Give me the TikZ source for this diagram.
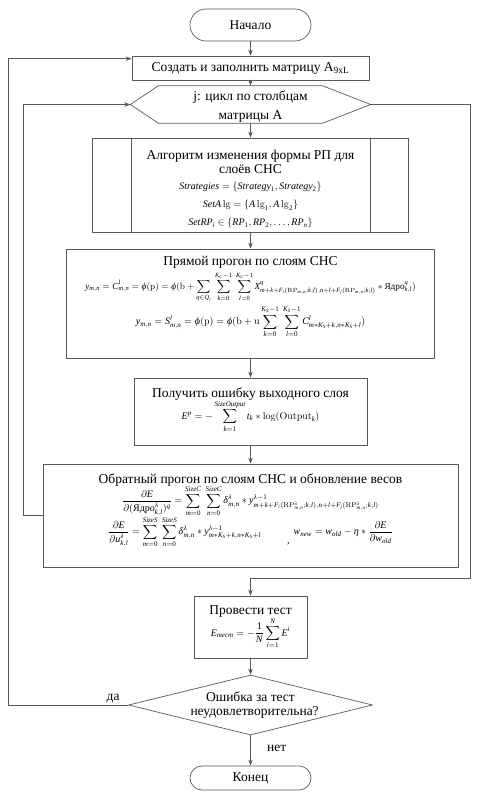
\documentclass[tikz,border=0pt]{standalone}
\usepackage{amsmath}
\usepackage{amssymb}
\usepackage{mathspec}
\setmainfont{Liberation Serif}
\setmathsfont(Digits,Latin,Greek){Liberation Serif}
\usetikzlibrary{arrows.meta,shapes.geometric,shapes.misc,calc}

\tikzset{
  line/.style={draw=black!65, line width=0.7pt},
  arr/.style={line, -{Stealth[length=6pt,width=4.5pt]}},
  blockbox/.style={line, rectangle, inner sep=0pt},
  termbox/.style={line, rounded rectangle, inner sep=0pt, minimum width=121pt},
  decisionbox/.style={line, diamond, aspect=4, inner sep=0pt,
    minimum width=244pt, minimum height=60pt},
}
\newcommand{\blk}[4][c]{\parbox[c][#3][#1]{#2}{\centering #4}}
\newcommand{\fml}{\fontsize{10}{12}\selectfont}

\begin{document}
\begin{tikzpicture}[x=1pt, y=-1pt, font=\fontsize{13.5}{14.5}\selectfont]
    \useasboundingbox (0,0) rectangle (483,797);

    % blocks
    \node[termbox, minimum height=32pt] (start) at (250.5,25) {Начало};
    \node[blockbox] (create) at (250.5,68)
        {\blk{237pt}{24pt}{Создать и заполнить матрицу A\textsubscript{9xL}}};
    \node[inner sep=0pt] (loopj) at (250.5,104.5)
        {\blk{240pt}{37pt}{\fontsize{13.5}{19.5}\selectfont\vspace*{4pt}j: цикл по столбцам\\ матрицы A}};
    \node[blockbox] (alg) at (250.5,185)
        {\blk[t]{316pt}{94pt}{\vspace*{12pt}Алгоритм изменения формы РП для\\ слоёв СНС\\[1.5pt]
        {\fml $Strategies=\{Strategy_1,Strategy_2\}$}\\[3.5pt]
        {\fml $SetA\lg=\{A\lg_1,A\lg_2\}$}\\[3.5pt]
        {\fml $SetRP_i\in\{RP_1,RP_2,\ldots,RP_n\}$}}};
    \node[blockbox] (fwd) at (250.5,303.5)
        {\blk[t]{368pt}{109pt}{\vspace*{7pt}Прямой прогон по слоям СНС\\[3pt]
        {\fontsize{9.2}{11}\selectfont $\displaystyle y_{m,n}=C^{l}_{m,n}=\varphi(\mathrm{p})=\varphi(\mathrm{b}+\sum_{q\in Q_l}\;\sum_{k=0}^{K_C-1}\;\sum_{l=0}^{K_C-1}X^{q}_{m+k+F_i(\mathrm{RP}_{m,n};k;l),n+l+F_j(\mathrm{RP}_{m,n};k;l)}*\text{Ядро}^{q}_{k,l})$}\\[3pt]
        {\fml $\displaystyle y_{m,n}=S^{l}_{m,n}=\varphi(\mathrm{p})=\varphi(\mathrm{b}+\mathrm{u}\sum_{k=0}^{K_S-1}\;\sum_{l=0}^{K_S-1}C^{l}_{m*K_S+k,n*K_S+l})$}}};
    \node[blockbox] (err) at (250.5,411.5)
        {\blk{233pt}{67pt}{\vspace*{-3pt}Получить ошибку выходного слоя\\[-1pt]
        {\fml $\displaystyle E^{p}=-\sum_{k=1}^{SizeOutput}t_k*\log(\mathrm{Output}_k)$}}};
    \node[blockbox] (back) at (250.5,515.5)
        {\blk{415pt}{103pt}{\vspace*{-9pt}Обратный прогон по слоям СНС и обновление весов\\[-2pt]
        {\fml $\displaystyle \frac{\partial E}{\partial(\text{Ядро}^{\lambda}_{k,l})^{q}}=\sum_{m=0}^{SizeC}\;\sum_{n=0}^{SizeC}\delta^{\lambda}_{m,n}*y^{\lambda-1}_{m+k+F_i(\mathrm{RP}^{\lambda}_{m,n};k;l),n+l+F_j(\mathrm{RP}^{\lambda}_{m,n};k;l)}$}\\[-1pt]
        {\fml $\displaystyle \frac{\partial E}{\partial u^{\lambda}_{k,l}}=\sum_{m=0}^{SizeS}\;\sum_{n=0}^{SizeS}\delta^{\lambda}_{m,n}*y^{\lambda-1}_{m*K_S+k,n*K_S+l}$\hspace{26pt}\raisebox{-9pt}{,}\hspace{4pt}$\displaystyle w_{new}=w_{old}-\eta*\frac{\partial E}{\partial w_{old}}$}}};
    \node[blockbox] (test) at (250.5,627)
        {\blk{113pt}{62pt}{Провести тест\\
        {\fml $\displaystyle E_{\textit{тест}}=-\frac{1}{N}\sum_{i=1}^{N}E^{i}$}}};
    \node[decisionbox] (check) at (250.5,705)
        {\blk{120pt}{24pt}{Ошибка за тест\\ неудовлетворительна?}};
    \node[termbox, minimum height=24pt] (stop) at (250.5,778) {Конец};

    % hexagon of the loop and sides of the process block
    \draw[line] (loopj.west) -- ($(loopj.north west)+(28,0)$) -- ($(loopj.north east)+(-48,0)$)
        -- (loopj.east) -- ($(loopj.south east)+(-48,0)$) -- ($(loopj.south west)+(28,0)$) -- cycle;
    \draw[line] ($(alg.north west)+(39,0)$) -- ($(alg.south west)+(39,0)$);
    \draw[line] ($(alg.north east)+(-39,0)$) -- ($(alg.south east)+(-39,0)$);

    % turning points
    \coordinate (rturn) at (470,578);
    \coordinate (lturn) at (23,515.5);
    \coordinate (yesturn) at (8,705);

    % connectors
    \draw[arr] (start.south) -- (create.north);
    \draw[arr] (create.south) -- (loopj.north);
    \draw[arr] (loopj.south) -- (alg.north);
    \draw[arr] (alg.south) -- (fwd.north);
    \draw[arr] (fwd.south) -- (err.north);
    \draw[arr] (err.south) -- (back.north);
    \draw[arr] (loopj.east) -| (rturn) -| (test.north);
    \draw[arr] (back.west) -- (lturn) |- (loopj.west);
    \draw[arr] (test.south) -- (check.north);
    \draw[arr] (check.south) -- node[right, pos=0.42, xshift=13pt] {нет} (stop.north);
    \draw[arr] (check.west) -- node[above, pos=0.125, inner sep=2pt] {да} (yesturn)
        |- ([yshift=-3pt]create.north west);
\end{tikzpicture}
\end{document}
